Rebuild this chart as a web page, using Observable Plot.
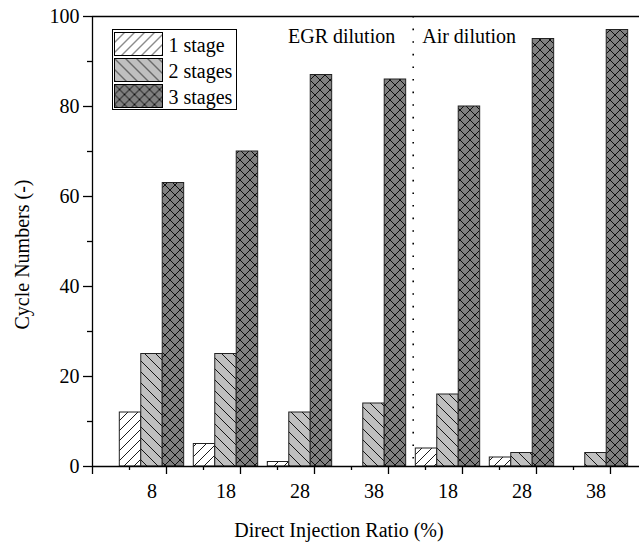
<!DOCTYPE html>
<html><head><meta charset="utf-8">
<script src="https://cdn.jsdelivr.net/npm/d3@7"></script>
<script src="https://cdn.jsdelivr.net/npm/@observablehq/plot@0.6"></script>
<style>
body{margin:0;background:#fff;}
#wrap{position:relative;width:639px;height:545px;overflow:hidden;}
#wrap svg, #wrap svg text{font-family:"Liberation Serif","Times New Roman",serif !important;}
#legend{position:absolute;left:112px;top:29px;}
</style></head><body>
<svg width="0" height="0" style="position:absolute">
<defs>
<pattern id="p1" patternUnits="userSpaceOnUse" width="10" height="10">
<rect width="10" height="10" fill="#fff"/>
<path d="M0,10L10,0M-1,1L1,-1M9,11L11,9" stroke="#000" stroke-width="0.9"/>
</pattern>
<pattern id="p2" patternUnits="userSpaceOnUse" width="11" height="11">
<rect width="11" height="11" fill="#c0c0c0"/>
<path d="M0,0L11,11M-1,10L1,12M10,-1L12,1" stroke="#000" stroke-width="0.9"/>
</pattern>
<pattern id="p3" patternUnits="userSpaceOnUse" width="10" height="10">
<rect width="10" height="10" fill="#808080"/>
<path d="M0,0L10,10M-1,9L1,11M9,-1L11,1M0,10L10,0M-1,1L1,-1M9,11L11,9" stroke="#000" stroke-width="0.9"/>
</pattern>
</defs></svg>
<div id="wrap"></div>
<script>
const groups = ["8","18","28","38","18","28","38"];
const stages = ["1 stage","2 stages","3 stages"];
const oneStage = [12,5,1,0,4,2,0];
const twoStages = [25,25,12,14,16,3,3];
const threeStages = [63,70,87,86,80,95,97];
const yTicks = [0,20,40,60,80,100];
const yMinor = [10,30,50,70,90];
const dividerAt = 3.53;
const annotations = ["EGR dilution","Air dilution"];
const xTitle = "Direct Injection Ratio (%)";
const yTitle = "Cycle Numbers (-)";
const patterns = ["url(#p1)","url(#p2)","url(#p3)"];

const series = [oneStage, twoStages, threeStages];
const rows = groups.flatMap((g, i) => stages.map((s, j) => ({i, g, j, stage: s, value: series[j][i]})));
const xDomain = [-0.804, 6.588];
const bw = 0.29;
const major = d3.range(8).map(k => xDomain[0] + k);
const minor = d3.range(8).map(k => xDomain[0] + k + 0.5);
const font = "'Liberation Serif', 'Times New Roman', serif";

const chart = Plot.plot({
  width: 639, height: 545,
  marginTop: 16, marginBottom: 79, marginLeft: 92, marginRight: 0,
  style: {fontFamily: font, fontSize: "20px", background: "#fff", color: "#000", overflow: "visible"},
  x: {domain: xDomain, axis: null},
  y: {domain: [0, 100], axis: null},
  color: {domain: stages, range: patterns},
  marks: [
    Plot.rectY(rows, {x1: d => d.i + (d.j - 1) * bw - bw / 2, x2: d => d.i + (d.j - 1) * bw + bw / 2, y: "value", fill: "stage", stroke: "#222", strokeWidth: 1}),
    Plot.ruleX([dividerAt], {stroke: "#000", strokeWidth: 1.6, strokeDasharray: "1.6,11"}),
    Plot.ruleY([0], {stroke: "#000", strokeWidth: 1.3}),
    Plot.ruleY([100], {stroke: "#000", strokeWidth: 1.3}),
    Plot.ruleX([xDomain[0]], {stroke: "#000", strokeWidth: 1.3}),
    Plot.axisY({ticks: yTicks, tickSize: 9, tickPadding: 4, fontSize: 20, fontFamily: font, label: null, strokeWidth: 1.3}),
    Plot.axisY({ticks: yMinor, tickSize: 5, tickFormat: () => "", label: null, strokeWidth: 1.3}),
    Plot.axisX({ticks: major, tickSize: 8, tickFormat: () => "", label: null, strokeWidth: 1.3}),
    Plot.axisX({ticks: minor, tickSize: 4, tickFormat: () => "", label: null, strokeWidth: 1.3}),
    Plot.axisX({ticks: d3.range(groups.length), tickSize: 0, tickPadding: 17, tickFormat: i => groups[i], fontSize: 20, fontFamily: font, label: null}),
    Plot.text([annotations[0]], {x: () => dividerAt, frameAnchor: "top", lineAnchor: "middle", dy: 20, dx: -18, textAnchor: "end", fontSize: 20, fontFamily: font}),
    Plot.text([annotations[1]], {x: () => dividerAt, frameAnchor: "top", lineAnchor: "middle", dy: 20, dx: 9, textAnchor: "start", fontSize: 20, fontFamily: font}),
    Plot.text([xTitle], {frameAnchor: "bottom", lineAnchor: "middle", textAnchor: "middle", dy: 64, dx: -27, fontSize: 20, fontFamily: font}),
    Plot.text([yTitle], {frameAnchor: "left", rotate: -90, textAnchor: "middle", lineAnchor: "middle", dx: -70, dy: 13, fontSize: 20, fontFamily: font})
  ]
});
const wrap = document.getElementById("wrap");
wrap.appendChild(chart);

// legend
const lw = 125, lh = 81;
const leg = d3.create("svg").attr("id", "legend").attr("width", lw).attr("height", lh)
  .attr("font-family", font).attr("font-size", 20);
leg.append("rect").attr("x", 0.5).attr("y", 0.5).attr("width", lw - 1).attr("height", lh - 1)
  .attr("fill", "#fff").attr("stroke", "#000");
const rowsL = leg.selectAll("g").data(stages).join("g")
  .attr("transform", (d, k) => `translate(2.5,${3.5 + k * 26})`);
rowsL.append("rect").attr("width", 48).attr("height", 23)
  .attr("fill", (d, k) => patterns[k]).attr("stroke", "#000").attr("stroke-width", 1);
rowsL.append("text").attr("x", 54).attr("y", 12).attr("dy", "0.35em").text(d => d);
wrap.appendChild(leg.node());
</script>
</body></html>
